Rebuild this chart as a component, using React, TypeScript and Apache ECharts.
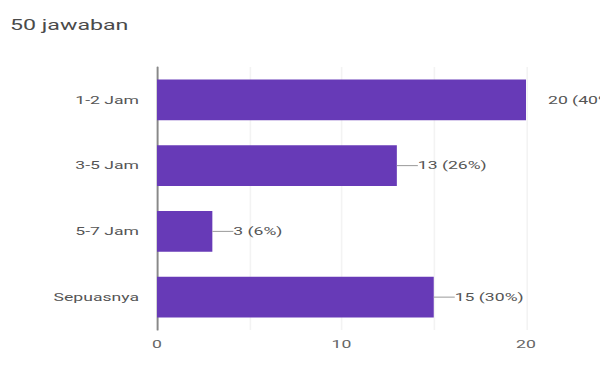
import React, { useEffect, useRef } from "react";
import * as echarts from "echarts";

const categories = ["1-2 Jam", "3-5 Jam", "5-7 Jam", "Sepuasnya"];
const counts = [20, 13, 3, 15];
const percents = ["40%", "26%", "6%", "30%"];
const xTicks = [0, 10, 20];

// The reference image is horizontally stretched; reproduce with a CSS scaleX.
const STRETCH = 1.6;
const W = 600 / STRETCH;

export default function App() {
  const ref = useRef<HTMLDivElement>(null);
  useEffect(() => {
    if (!ref.current) return;
    const chart = echarts.init(ref.current, null, { renderer: "svg" });
    chart.setOption({
      animation: false,
      title: {
        text: "50 jawaban",
        left: 10 / STRETCH - 5,
        top: 13,
        textStyle: { fontFamily: "Roboto", fontSize: 14.5, fontWeight: "normal", color: "#4a4a4a" },
      },
      grid: { left: 157 / STRETCH, right: 74 / STRETCH, top: 67, bottom: 42 },
      xAxis: {
        type: "value",
        min: 0,
        max: 20,
        interval: 5,
        axisLine: { show: false },
        axisTick: { show: false },
        splitLine: { show: true, lineStyle: { color: "#f3f3f3" } },
        axisLabel: {
          formatter: (v: number) => (xTicks.includes(v) ? String(v) : ""),
          color: "#666",
          fontFamily: "Roboto",
          fontSize: 11,
          margin: 9,
        },
      },
      yAxis: {
        type: "category",
        data: categories,
        inverse: true,
        axisLine: { show: true, lineStyle: { color: "#888", width: 1.2 } },
        axisTick: { show: false },
        axisLabel: { color: "#555", fontFamily: "Roboto", fontSize: 11, margin: 18 / STRETCH },
      },
      series: [
        {
          type: "bar",
          data: counts,
          barWidth: "62%",
          itemStyle: { color: "#673ab7" },
          label: {
            show: true,
            position: "right",
            distance: 0,
            formatter: (p: any) =>
              (p.dataIndex === 0 ? "{gap|}" : "{line|}") + "{t|" + p.value + " (" + percents[p.dataIndex] + ")}",
            rich: {
              line: { width: 21 / STRETCH, height: 1, backgroundColor: "#999" },
              gap: { width: 22 / STRETCH, height: 1 },
              t: { color: "#555", fontFamily: "Roboto", fontSize: 11 },
            },
          },
        },
      ],
    });
    return () => chart.dispose();
  }, []);
  return (
    <div
      style={{ position: "absolute", left: 0, top: 0, width: 600, height: 372, overflow: "hidden", background: "#fff" }}
    >
      <div
        ref={ref}
        style={{
          width: W,
          height: 372,
          transform: `scaleX(${STRETCH})`,
          transformOrigin: "0 0",
        }}
      />
    </div>
  );
}
